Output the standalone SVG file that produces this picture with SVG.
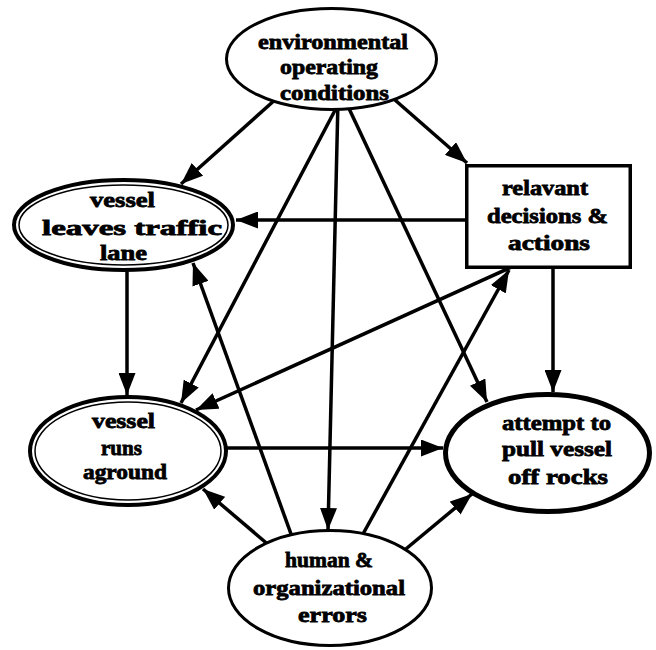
<svg xmlns="http://www.w3.org/2000/svg" width="656" height="650" viewBox="0 0 656 650">
<style>
.bg{fill:#fff}
.edge{stroke:#000;stroke-width:3.5;fill:none;marker-end:url(#ah)}
.n{fill:#fff;stroke:#000;stroke-width:3}
.thick{stroke-width:4}
.thin{fill:none;stroke:#000;stroke-width:1.5}
.heavy{stroke-width:5}
text{font-family:"Liberation Serif","Times New Roman",serif;font-weight:bold;font-size:22px;fill:#000;stroke:#000;stroke-width:0.8}
</style>
<defs>
<marker id="ah" markerUnits="userSpaceOnUse" markerWidth="22" markerHeight="17" refX="22" refY="8.5" orient="auto">
<path d="M0,0 L22,8.5 L0,17 z" fill="#000"/>
</marker>
</defs>
<rect class="bg" x="0" y="0" width="656" height="650"/>
<g id="connectors">
<line class="edge" x1="286" y1="90" x2="181" y2="184"/>
<line class="edge" x1="371" y1="79" x2="467" y2="163"/>
<line class="edge" x1="342" y1="97" x2="181" y2="403"/>
<line class="edge" x1="338" y1="100" x2="328" y2="530"/>
<line class="edge" x1="345" y1="100" x2="487" y2="402"/>
<line class="edge" x1="480" y1="220" x2="236" y2="220"/>
<line class="edge" x1="516" y1="265" x2="196" y2="410"/>
<line class="edge" x1="553" y1="260" x2="553" y2="392"/>
<line class="edge" x1="127" y1="265" x2="127" y2="395"/>
<line class="edge" x1="220" y1="448" x2="443" y2="448"/>
<line class="edge" x1="295" y1="545" x2="193" y2="263"/>
<line class="edge" x1="284" y1="558" x2="203" y2="489"/>
<line class="edge" x1="358" y1="543" x2="509" y2="270"/>
<line class="edge" x1="395" y1="558" x2="472" y2="494"/>
</g>
<g id="env">
<ellipse class="n" cx="331.5" cy="59" rx="105" ry="50.5"/>
<text x="258" y="49" textLength="150" lengthAdjust="spacingAndGlyphs">environmental</text>
<text x="280" y="74" textLength="98" lengthAdjust="spacingAndGlyphs">operating</text>
<text x="280" y="100" textLength="109" lengthAdjust="spacingAndGlyphs">conditions</text>
</g>
<g id="leaves">
<ellipse class="n thick" cx="123.5" cy="225" rx="109.5" ry="45"/>
<ellipse class="thin" cx="123.5" cy="225" rx="104.5" ry="40"/>
<text x="90" y="207" textLength="65" lengthAdjust="spacingAndGlyphs">vessel</text>
<text x="42" y="235" textLength="180" lengthAdjust="spacingAndGlyphs">leaves traffic</text>
<text x="100" y="260" textLength="47" lengthAdjust="spacingAndGlyphs">lane</text>
</g>
<g id="decisions">
<rect class="n" x="466.75" y="165.75" width="163.5" height="101.5" style="stroke-width:3.5"/>
<text x="502" y="195" textLength="86" lengthAdjust="spacingAndGlyphs">relavant</text>
<text x="487" y="223" textLength="121" lengthAdjust="spacingAndGlyphs">decisions &amp;</text>
<text x="508" y="250" textLength="82" lengthAdjust="spacingAndGlyphs">actions</text>
</g>
<g id="aground">
<ellipse class="n thick" cx="128" cy="451" rx="98" ry="54"/>
<ellipse class="thin" cx="128" cy="451" rx="93" ry="49"/>
<text x="92" y="428" textLength="63" lengthAdjust="spacingAndGlyphs">vessel</text>
<text x="101" y="455" textLength="41" lengthAdjust="spacingAndGlyphs">runs</text>
<text x="83" y="479" textLength="84" lengthAdjust="spacingAndGlyphs">aground</text>
</g>
<g id="attempt">
<ellipse class="n heavy" cx="547.5" cy="453" rx="102" ry="58.5"/>
<text x="502" y="430" textLength="109" lengthAdjust="spacingAndGlyphs">attempt to</text>
<text x="502" y="456" textLength="110" lengthAdjust="spacingAndGlyphs">pull vessel</text>
<text x="508" y="484" textLength="100" lengthAdjust="spacingAndGlyphs">off rocks</text>
</g>
<g id="human">
<ellipse class="n" cx="330" cy="588" rx="101.5" ry="57.5"/>
<text x="285" y="567" textLength="88" lengthAdjust="spacingAndGlyphs">human &amp;</text>
<text x="253" y="595" textLength="152" lengthAdjust="spacingAndGlyphs">organizational</text>
<text x="298" y="622" textLength="69" lengthAdjust="spacingAndGlyphs">errors</text>
</g>
</svg>
